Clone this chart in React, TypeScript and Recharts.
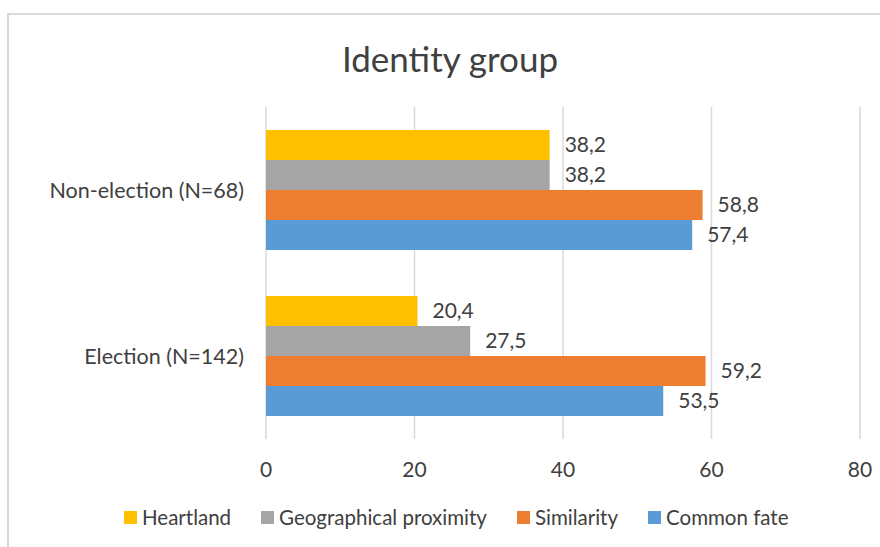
import React from 'react';
import { BarChart, Bar, XAxis, YAxis, CartesianGrid, LabelList } from 'recharts';

const categories = ['Non-election (N=68)', 'Election (N=142)'];
const heartland = [38.2, 20.4];
const geoProximity = [38.2, 27.5];
const similarity = [58.8, 59.2];
const commonFate = [57.4, 53.5];
const xTicks = [0, 20, 40, 60, 80];

const seriesList = [
  { key: 'heartland', name: 'Heartland', color: '#FFC000' },
  { key: 'geo', name: 'Geographical proximity', color: '#A5A5A5' },
  { key: 'similarity', name: 'Similarity', color: '#ED7D31' },
  { key: 'common', name: 'Common fate', color: '#5B9BD5' },
];

const data = categories.map((c, i) => ({
  name: c,
  heartland: heartland[i],
  geo: geoProximity[i],
  similarity: similarity[i],
  common: commonFate[i],
}));

const FONT = 'Lato, "Noto Sans", sans-serif';
const TEXT = '#404040';

const fmt = (v: any) => String(v).replace('.', ',');

const App: React.FC = () => {
  return (
    <div style={{ position: 'absolute', left: 0, top: 0, width: 880, height: 547, background: '#fff', fontFamily: FONT, overflow: 'hidden' }}>
      <div style={{ position: 'absolute', left: 7, top: 13, width: 900, height: 600, border: '2px solid #d9d9d9', boxSizing: 'border-box' }} />
      <div style={{ position: 'absolute', left: 0, width: 900, top: 37, textAlign: 'center', fontSize: 35, color: TEXT, lineHeight: '42px' }}>
        Identity group
      </div>
      <div style={{ position: 'absolute', left: 0, top: 0 }}>
        <BarChart
          width={880}
          height={547}
          data={data}
          layout="vertical"
          margin={{ top: 107, right: 20, left: 0, bottom: 0 }}
          barCategoryGap={23}
          barGap={0}
        >
          <CartesianGrid horizontal={false} stroke="#d9d9d9" strokeWidth={1.5} />
          <XAxis
            type="number"
            domain={[0, 80]}
            ticks={xTicks}
            axisLine={false}
            tickLine={false}
            height={108}
            tickMargin={17}
            tick={{ fill: TEXT, fontSize: 21, fontFamily: FONT }}
          />
          <YAxis
            type="category"
            dataKey="name"
            width={266}
            axisLine={false}
            tickLine={false}
            tickMargin={16}
            tick={{ fill: TEXT, fontSize: 21.5, fontFamily: FONT }}
          />
          {seriesList.map((s) => (
            <Bar key={s.key} dataKey={s.key} name={s.name} fill={s.color} isAnimationActive={false}>
              <LabelList
                dataKey={s.key}
                position="right"
                offset={15}
                formatter={fmt}
                style={{ fill: TEXT, fontSize: 21, fontFamily: FONT }}
              />
            </Bar>
          ))}
        </BarChart>
      </div>
      <div style={{ position: 'absolute', left: 124, top: 505, display: 'flex', fontSize: 20.5, color: TEXT }}>
        {seriesList.map((s) => (
          <div key={s.key} style={{ display: 'flex', alignItems: 'center', marginRight: 30 }}>
            <span style={{ width: 13, height: 13, background: s.color, display: 'inline-block', marginRight: 5 }} />
            <span>{s.name}</span>
          </div>
        ))}
      </div>
    </div>
  );
};

export default App;
